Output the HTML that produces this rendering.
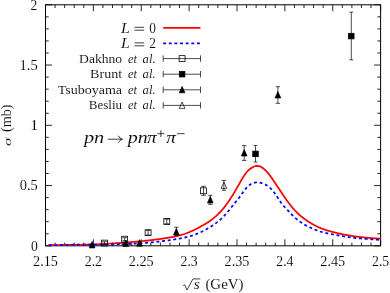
<!DOCTYPE html>
<html><head><meta charset="utf-8"><title>plot</title>
<style>html,body{margin:0;padding:0;background:#fff}svg{display:block;will-change:transform}text{font-family:"Liberation Serif",serif;fill:#000;stroke:#fff;stroke-width:0.1px}</style></head>
<body>
<svg width="390" height="293" viewBox="0 0 390 293">
<rect width="390" height="293" fill="#fff"/>
<path d="M45.50,245.8v-6.5M45.50,4.8v6.5M55.07,245.8v-3.2M55.07,4.8v3.2M64.65,245.8v-3.2M64.65,4.8v3.2M74.22,245.8v-3.2M74.22,4.8v3.2M83.80,245.8v-3.2M83.80,4.8v3.2M93.37,245.8v-6.5M93.37,4.8v6.5M102.95,245.8v-3.2M102.95,4.8v3.2M112.52,245.8v-3.2M112.52,4.8v3.2M122.09,245.8v-3.2M122.09,4.8v3.2M131.67,245.8v-3.2M131.67,4.8v3.2M141.24,245.8v-6.5M141.24,4.8v6.5M150.82,245.8v-3.2M150.82,4.8v3.2M160.39,245.8v-3.2M160.39,4.8v3.2M169.97,245.8v-3.2M169.97,4.8v3.2M179.54,245.8v-3.2M179.54,4.8v3.2M189.11,245.8v-6.5M189.11,4.8v6.5M198.69,245.8v-3.2M198.69,4.8v3.2M208.26,245.8v-3.2M208.26,4.8v3.2M217.84,245.8v-3.2M217.84,4.8v3.2M227.41,245.8v-3.2M227.41,4.8v3.2M236.99,245.8v-6.5M236.99,4.8v6.5M246.56,245.8v-3.2M246.56,4.8v3.2M256.13,245.8v-3.2M256.13,4.8v3.2M265.71,245.8v-3.2M265.71,4.8v3.2M275.28,245.8v-3.2M275.28,4.8v3.2M284.86,245.8v-6.5M284.86,4.8v6.5M294.43,245.8v-3.2M294.43,4.8v3.2M304.01,245.8v-3.2M304.01,4.8v3.2M313.58,245.8v-3.2M313.58,4.8v3.2M323.15,245.8v-3.2M323.15,4.8v3.2M332.73,245.8v-6.5M332.73,4.8v6.5M342.30,245.8v-3.2M342.30,4.8v3.2M351.88,245.8v-3.2M351.88,4.8v3.2M361.45,245.8v-3.2M361.45,4.8v3.2M371.03,245.8v-3.2M371.03,4.8v3.2M380.60,245.8v-6.5M380.60,4.8v6.5M45.5,245.80h6.5M380.6,245.80h-6.5M45.5,233.75h3.2M380.6,233.75h-3.2M45.5,221.70h3.2M380.6,221.70h-3.2M45.5,209.65h3.2M380.6,209.65h-3.2M45.5,197.60h3.2M380.6,197.60h-3.2M45.5,185.55h6.5M380.6,185.55h-6.5M45.5,173.50h3.2M380.6,173.50h-3.2M45.5,161.45h3.2M380.6,161.45h-3.2M45.5,149.40h3.2M380.6,149.40h-3.2M45.5,137.35h3.2M380.6,137.35h-3.2M45.5,125.30h6.5M380.6,125.30h-6.5M45.5,113.25h3.2M380.6,113.25h-3.2M45.5,101.20h3.2M380.6,101.20h-3.2M45.5,89.15h3.2M380.6,89.15h-3.2M45.5,77.10h3.2M380.6,77.10h-3.2M45.5,65.05h6.5M380.6,65.05h-6.5M45.5,53.00h3.2M380.6,53.00h-3.2M45.5,40.95h3.2M380.6,40.95h-3.2M45.5,28.90h3.2M380.6,28.90h-3.2M45.5,16.85h3.2M380.6,16.85h-3.2M45.5,4.80h6.5M380.6,4.80h-6.5" stroke="#000" stroke-width="0.85" fill="none"/>
<rect x="45.5" y="4.8" width="335.10" height="241.00" stroke="#000" stroke-width="1" fill="none"/>
<path d="M48.6,245.21 L50.1,245.17 L51.6,245.13 L53.1,245.10 L54.6,245.07 L56.1,245.05 L57.6,245.03 L59.1,245.01 L60.6,244.99 L62.1,244.97 L63.6,244.96 L65.1,244.94 L66.6,244.93 L68.1,244.92 L69.6,244.90 L71.1,244.89 L72.6,244.88 L74.1,244.86 L75.6,244.84 L77.1,244.83 L78.6,244.81 L80.1,244.79 L81.6,244.76 L83.1,244.73 L84.6,244.70 L86.1,244.67 L87.6,244.63 L89.1,244.59 L90.6,244.55 L92.1,244.50 L93.6,244.44 L95.1,244.38 L96.6,244.32 L98.1,244.25 L99.6,244.18 L101.1,244.10 L102.6,244.02 L104.1,243.94 L105.6,243.86 L107.1,243.77 L108.6,243.68 L110.1,243.59 L111.6,243.50 L113.1,243.41 L114.6,243.31 L116.1,243.22 L117.6,243.12 L119.1,243.02 L120.6,242.91 L122.1,242.81 L123.6,242.70 L125.1,242.59 L126.6,242.47 L128.1,242.35 L129.6,242.23 L131.1,242.11 L132.6,241.98 L134.1,241.85 L135.6,241.72 L137.1,241.58 L138.6,241.44 L140.1,241.29 L141.6,241.15 L143.1,241.00 L144.6,240.84 L146.1,240.68 L147.6,240.52 L149.1,240.36 L150.6,240.19 L152.1,240.02 L153.6,239.84 L155.1,239.66 L156.6,239.48 L158.1,239.29 L159.6,239.09 L161.1,238.89 L162.6,238.67 L164.1,238.45 L165.6,238.22 L167.1,237.98 L168.6,237.72 L170.1,237.45 L171.6,237.17 L173.1,236.87 L174.6,236.55 L176.1,236.22 L177.6,235.87 L179.1,235.50 L180.6,235.11 L182.1,234.68 L183.6,234.23 L185.1,233.74 L186.6,233.21 L188.1,232.64 L189.6,232.03 L191.1,231.38 L192.6,230.70 L194.1,229.98 L195.6,229.23 L197.1,228.47 L198.6,227.68 L200.1,226.88 L201.6,226.06 L203.1,225.22 L204.6,224.35 L206.1,223.44 L207.6,222.50 L209.1,221.51 L210.6,220.46 L212.1,219.35 L213.6,218.17 L215.1,216.92 L216.6,215.60 L218.1,214.18 L219.6,212.68 L221.1,211.08 L222.6,209.37 L224.1,207.55 L225.6,205.62 L227.1,203.58 L228.6,201.44 L230.1,199.20 L231.6,196.87 L233.1,194.45 L234.6,191.95 L236.1,189.38 L237.6,186.75 L239.1,184.09 L240.6,181.45 L242.1,178.86 L243.6,176.42 L245.1,174.18 L246.6,172.22 L248.1,170.59 L249.6,169.28 L251.1,168.20 L252.6,167.23 L254.1,166.50 L255.6,166.04 L257.1,165.85 L258.6,166.01 L260.1,166.43 L261.6,167.21 L263.1,168.30 L264.6,169.54 L266.1,170.95 L267.6,172.59 L269.1,174.44 L270.6,176.43 L272.1,178.52 L273.6,180.70 L275.1,182.93 L276.6,185.20 L278.1,187.49 L279.6,189.78 L281.1,192.05 L282.6,194.30 L284.1,196.50 L285.6,198.66 L287.1,200.74 L288.6,202.76 L290.1,204.70 L291.6,206.55 L293.1,208.33 L294.6,210.01 L296.1,211.60 L297.6,213.09 L299.1,214.49 L300.6,215.81 L302.1,217.05 L303.6,218.23 L305.1,219.34 L306.6,220.39 L308.1,221.40 L309.6,222.37 L311.1,223.29 L312.6,224.16 L314.1,224.99 L315.6,225.78 L317.1,226.52 L318.6,227.22 L320.1,227.87 L321.6,228.49 L323.1,229.06 L324.6,229.59 L326.1,230.09 L327.6,230.56 L329.1,231.01 L330.6,231.43 L332.1,231.84 L333.6,232.22 L335.1,232.60 L336.6,232.96 L338.1,233.32 L339.6,233.66 L341.1,233.98 L342.6,234.30 L344.1,234.60 L345.6,234.89 L347.1,235.16 L348.6,235.43 L350.1,235.67 L351.6,235.91 L353.1,236.13 L354.6,236.34 L356.1,236.54 L357.6,236.73 L359.1,236.91 L360.6,237.08 L362.1,237.24 L363.6,237.39 L365.1,237.53 L366.6,237.67 L368.1,237.80 L369.6,237.93 L371.1,238.04 L372.6,238.16 L374.1,238.27 L375.6,238.37 L377.1,238.47 L378.6,238.57 L380.6,238.70" stroke="#ff0000" stroke-width="1.75" fill="none"/>
<path d="M48.6,245.27 L50.1,245.22 L51.6,245.17 L53.1,245.12 L54.6,245.07 L56.1,245.03 L57.6,244.99 L59.1,244.96 L60.6,244.93 L62.1,244.90 L63.6,244.87 L65.1,244.84 L66.6,244.82 L68.1,244.80 L69.6,244.78 L71.1,244.76 L72.6,244.74 L74.1,244.73 L75.6,244.71 L77.1,244.70 L78.6,244.69 L80.1,244.68 L81.6,244.67 L83.1,244.66 L84.6,244.65 L86.1,244.64 L87.6,244.63 L89.1,244.62 L90.6,244.61 L92.1,244.60 L93.6,244.59 L95.1,244.58 L96.6,244.57 L98.1,244.55 L99.6,244.54 L101.1,244.52 L102.6,244.51 L104.1,244.49 L105.6,244.47 L107.1,244.45 L108.6,244.43 L110.1,244.40 L111.6,244.37 L113.1,244.34 L114.6,244.31 L116.1,244.28 L117.6,244.24 L119.1,244.20 L120.6,244.15 L122.1,244.11 L123.6,244.06 L125.1,244.00 L126.6,243.94 L128.1,243.88 L129.6,243.82 L131.1,243.75 L132.6,243.68 L134.1,243.60 L135.6,243.52 L137.1,243.43 L138.6,243.34 L140.1,243.24 L141.6,243.14 L143.1,243.03 L144.6,242.92 L146.1,242.81 L147.6,242.68 L149.1,242.56 L150.6,242.42 L152.1,242.29 L153.6,242.14 L155.1,241.99 L156.6,241.84 L158.1,241.67 L159.6,241.50 L161.1,241.33 L162.6,241.15 L164.1,240.96 L165.6,240.76 L167.1,240.56 L168.6,240.35 L170.1,240.13 L171.6,239.91 L173.1,239.67 L174.6,239.43 L176.1,239.18 L177.6,238.93 L179.1,238.66 L180.6,238.38 L182.1,238.08 L183.6,237.77 L185.1,237.43 L186.6,237.08 L188.1,236.70 L189.6,236.29 L191.1,235.86 L192.6,235.39 L194.1,234.89 L195.6,234.36 L197.1,233.78 L198.6,233.17 L200.1,232.51 L201.6,231.82 L203.1,231.08 L204.6,230.29 L206.1,229.47 L207.6,228.61 L209.1,227.71 L210.6,226.78 L212.1,225.81 L213.6,224.79 L215.1,223.73 L216.6,222.62 L218.1,221.44 L219.6,220.18 L221.1,218.84 L222.6,217.42 L224.1,215.89 L225.6,214.26 L227.1,212.55 L228.6,210.76 L230.1,208.93 L231.6,207.06 L233.1,205.18 L234.6,203.29 L236.1,201.43 L237.6,199.58 L239.1,197.68 L240.6,195.68 L242.1,193.58 L243.6,191.48 L245.1,189.47 L246.6,187.65 L248.1,186.13 L249.6,184.94 L251.1,184.04 L252.6,183.35 L254.1,182.83 L255.6,182.47 L257.1,182.30 L258.6,182.38 L260.1,182.65 L261.6,183.07 L263.1,183.58 L264.6,184.18 L266.1,184.94 L267.6,185.90 L269.1,187.06 L270.6,188.43 L272.1,189.99 L273.6,191.76 L275.1,193.73 L276.6,195.89 L278.1,198.23 L279.6,200.60 L281.1,202.77 L282.6,204.71 L284.1,206.47 L285.6,208.11 L287.1,209.67 L288.6,211.22 L290.1,212.77 L291.6,214.31 L293.1,215.81 L294.6,217.25 L296.1,218.61 L297.6,219.87 L299.1,221.03 L300.6,222.11 L302.1,223.11 L303.6,224.04 L305.1,224.91 L306.6,225.74 L308.1,226.53 L309.6,227.28 L311.1,228.00 L312.6,228.68 L314.1,229.33 L315.6,229.93 L317.1,230.50 L318.6,231.02 L320.1,231.51 L321.6,231.95 L323.1,232.35 L324.6,232.73 L326.1,233.07 L327.6,233.39 L329.1,233.69 L330.6,233.98 L332.1,234.26 L333.6,234.54 L335.1,234.83 L336.6,235.11 L338.1,235.40 L339.6,235.68 L341.1,235.95 L342.6,236.22 L344.1,236.49 L345.6,236.73 L347.1,236.97 L348.6,237.19 L350.1,237.39 L351.6,237.58 L353.1,237.76 L354.6,237.92 L356.1,238.08 L357.6,238.22 L359.1,238.36 L360.6,238.48 L362.1,238.60 L363.6,238.72 L365.1,238.83 L366.6,238.94 L368.1,239.04 L369.6,239.15 L371.1,239.26 L372.6,239.36 L374.1,239.47 L375.6,239.58 L377.1,239.70 L378.6,239.82 L380.6,240.00" stroke="#0000ff" stroke-width="1.75" stroke-dasharray="2.9 2.78" fill="none"/>
<text x="33.05" y="266.00" font-size="13.6" textLength="24.90" lengthAdjust="spacingAndGlyphs" >2.15</text>
<text x="84.77" y="266.00" font-size="13.6" textLength="17.20" lengthAdjust="spacingAndGlyphs" >2.2</text>
<text x="128.79" y="266.00" font-size="13.6" textLength="24.90" lengthAdjust="spacingAndGlyphs" >2.25</text>
<text x="180.51" y="266.00" font-size="13.6" textLength="17.20" lengthAdjust="spacingAndGlyphs" >2.3</text>
<text x="224.54" y="266.00" font-size="13.6" textLength="24.90" lengthAdjust="spacingAndGlyphs" >2.35</text>
<text x="276.26" y="266.00" font-size="13.6" textLength="17.20" lengthAdjust="spacingAndGlyphs" >2.4</text>
<text x="320.28" y="266.00" font-size="13.6" textLength="24.90" lengthAdjust="spacingAndGlyphs" >2.45</text>
<text x="372.00" y="266.00" font-size="13.6" textLength="17.20" lengthAdjust="spacingAndGlyphs" >2.5</text>
<text x="31.00" y="250.55" font-size="13.6" textLength="6.80" lengthAdjust="spacingAndGlyphs" >0</text>
<text x="19.70" y="190.30" font-size="13.6" textLength="18.10" lengthAdjust="spacingAndGlyphs" >0.5</text>
<text x="30.20" y="130.05" font-size="13.6" textLength="7.90" lengthAdjust="spacingAndGlyphs" >1</text>
<text x="19.50" y="69.80" font-size="13.6" textLength="18.30" lengthAdjust="spacingAndGlyphs" >1.5</text>
<text x="30.60" y="9.55" font-size="13.6" textLength="6.70" lengthAdjust="spacingAndGlyphs" >2</text>
<path d="M183.2,285.6l1.4,-0.8l2.4,5.2L193.0,278.9H200.3" stroke="#000" stroke-width="0.75" fill="none"/>
<text x="193.70" y="289.00" font-size="14" textLength="6.10" lengthAdjust="spacingAndGlyphs" font-style="italic">s</text>
<text x="205.40" y="289.00" font-size="14" textLength="38.10" lengthAdjust="spacingAndGlyphs" >(GeV)</text>
<g transform="translate(11.4,0) rotate(-90)">
<text x="-145.90" y="0.00" font-size="10.5" textLength="8.30" lengthAdjust="spacingAndGlyphs" font-style="italic">σ</text>
<text x="-132.10" y="0.00" font-size="14" textLength="27.70" lengthAdjust="spacingAndGlyphs" >(mb)</text>
</g>
<text x="121.00" y="32.60" font-size="13.8" textLength="8.90" lengthAdjust="spacingAndGlyphs" font-style="italic">L</text>
<path d="M134.5,27.30H144.2M134.5,30.20H144.2" stroke="#000" stroke-width="0.75" fill="none"/>
<text x="149.20" y="32.60" font-size="13.6" textLength="6.70" lengthAdjust="spacingAndGlyphs" >0</text>
<text x="121.00" y="48.20" font-size="13.8" textLength="8.90" lengthAdjust="spacingAndGlyphs" font-style="italic">L</text>
<path d="M134.5,42.90H144.2M134.5,45.80H144.2" stroke="#000" stroke-width="0.75" fill="none"/>
<text x="149.20" y="48.20" font-size="13.6" textLength="6.70" lengthAdjust="spacingAndGlyphs" >2</text>
<text x="79.10" y="62.50" font-size="12.3" textLength="43.00" lengthAdjust="spacingAndGlyphs" >Dakhno</text>
<text x="127.90" y="62.50" font-size="12.3" textLength="9.00" lengthAdjust="spacingAndGlyphs" font-style="italic">et</text>
<text x="142.60" y="62.50" font-size="12.3" textLength="13.00" lengthAdjust="spacingAndGlyphs" font-style="italic">al.</text>
<text x="90.10" y="78.10" font-size="12.3" textLength="32.00" lengthAdjust="spacingAndGlyphs" >Brunt</text>
<text x="127.90" y="78.10" font-size="12.3" textLength="9.00" lengthAdjust="spacingAndGlyphs" font-style="italic">et</text>
<text x="142.60" y="78.10" font-size="12.3" textLength="13.00" lengthAdjust="spacingAndGlyphs" font-style="italic">al.</text>
<text x="57.70" y="93.70" font-size="12.3" textLength="64.40" lengthAdjust="spacingAndGlyphs" >Tsuboyama</text>
<text x="127.90" y="93.70" font-size="12.3" textLength="9.00" lengthAdjust="spacingAndGlyphs" font-style="italic">et</text>
<text x="142.60" y="93.70" font-size="12.3" textLength="13.00" lengthAdjust="spacingAndGlyphs" font-style="italic">al.</text>
<text x="88.80" y="109.30" font-size="12.3" textLength="33.30" lengthAdjust="spacingAndGlyphs" >Besliu</text>
<text x="127.90" y="109.30" font-size="12.3" textLength="9.00" lengthAdjust="spacingAndGlyphs" font-style="italic">et</text>
<text x="142.60" y="109.30" font-size="12.3" textLength="13.00" lengthAdjust="spacingAndGlyphs" font-style="italic">al.</text>
<path d="M163.2,27.8H200.5" stroke="#ff0000" stroke-width="1.75"/>
<path d="M163.2,43.4H200.5" stroke="#0000ff" stroke-width="1.75" stroke-dasharray="2.9 2.73" stroke-dashoffset="0"/>
<path d="M163.2,58.6H200.5M163.2,55.4v6.4M200.5,55.4v6.4" stroke="#000" stroke-width="0.7" fill="none"/>
<rect x="179.15" y="55.65" width="5.9" height="5.9" fill="none" stroke="#000" stroke-width="0.8"/>
<path d="M163.2,74.2H200.5M163.2,71.0v6.4M200.5,71.0v6.4" stroke="#000" stroke-width="0.7" fill="none"/>
<rect x="179.35" y="71.45" width="5.5" height="5.5" fill="#000" stroke="#000" stroke-width="0.8"/>
<path d="M163.2,89.8H200.5M163.2,86.6v6.4M200.5,86.6v6.4" stroke="#000" stroke-width="0.7" fill="none"/>
<path d="M182.10,86.40L184.95,92.80H179.25Z" fill="#000" stroke="#000" stroke-width="0.7"/>
<path d="M163.2,105.4H200.5M163.2,102.2v6.4M200.5,102.2v6.4" stroke="#000" stroke-width="0.7" fill="none"/>
<path d="M182.10,102.00L184.95,108.40H179.25Z" fill="none" stroke="#000" stroke-width="0.7"/>
<text x="83.90" y="142.80" font-size="17.5" textLength="20.30" lengthAdjust="spacingAndGlyphs" font-style="italic">pn</text>
<path d="M107.8,139.2H122.2M118.4,135.7Q119.6,138.6 122.4,139.2Q119.6,139.8 118.4,142.7" stroke="#000" stroke-width="0.75" fill="none"/>
<text x="127.70" y="142.80" font-size="17.5" textLength="20.00" lengthAdjust="spacingAndGlyphs" font-style="italic">pn</text>
<text x="147.10" y="142.80" font-size="17.5" textLength="9.70" lengthAdjust="spacingAndGlyphs" font-style="italic">π</text>
<path d="M157.4,133.7H164.4M160.9,130.3V137.1M177,133.7H184.6" stroke="#000" stroke-width="0.75" fill="none"/>
<text x="166.20" y="142.80" font-size="17.5" textLength="9.70" lengthAdjust="spacingAndGlyphs" font-style="italic">π</text>
<path d="M104.50,241.70V244.50M102.20,241.70h4.6M102.20,244.50h4.6" stroke="#000" stroke-width="0.7" fill="none"/>
<rect x="101.55" y="240.15" width="5.9" height="5.9" fill="none" stroke="#000" stroke-width="0.8"/>
<path d="M124.65,237.70V240.70M122.35,237.70h4.6M122.35,240.70h4.6" stroke="#000" stroke-width="0.7" fill="none"/>
<rect x="121.70" y="236.25" width="5.9" height="5.9" fill="none" stroke="#000" stroke-width="0.8"/>
<path d="M148.10,230.40V235.00M145.80,230.40h4.6M145.80,235.00h4.6" stroke="#000" stroke-width="0.7" fill="none"/>
<rect x="145.15" y="229.75" width="5.9" height="5.9" fill="none" stroke="#000" stroke-width="0.8"/>
<path d="M166.80,219.20V223.80M164.50,219.20h4.6M164.50,223.80h4.6" stroke="#000" stroke-width="0.7" fill="none"/>
<rect x="163.85" y="218.55" width="5.9" height="5.9" fill="none" stroke="#000" stroke-width="0.8"/>
<path d="M203.50,186.30V195.30M201.20,186.30h4.6M201.20,195.30h4.6" stroke="#000" stroke-width="0.7" fill="none"/>
<rect x="200.55" y="187.85" width="5.9" height="5.9" fill="none" stroke="#000" stroke-width="0.8"/>
<path d="M92.10,244.00V245.80M89.90,244.00h4.4M89.90,245.80h4.4" stroke="#000" stroke-width="0.7" fill="none"/>
<path d="M92.10,241.50L94.95,247.90H89.25Z" fill="#000" stroke="#000" stroke-width="0.7"/>
<path d="M125.80,242.40V244.40M123.60,242.40h4.4M123.60,244.40h4.4" stroke="#000" stroke-width="0.7" fill="none"/>
<path d="M125.80,240.00L128.65,246.40H122.95Z" fill="#000" stroke="#000" stroke-width="0.7"/>
<path d="M139.50,242.00V244.40M137.30,242.00h4.4M137.30,244.40h4.4" stroke="#000" stroke-width="0.7" fill="none"/>
<path d="M139.50,239.80L142.35,246.20H136.65Z" fill="#000" stroke="#000" stroke-width="0.7"/>
<path d="M176.35,227.20V235.60M174.15,227.20h4.4M174.15,235.60h4.4" stroke="#000" stroke-width="0.7" fill="none"/>
<path d="M176.35,228.50L179.20,234.90H173.50Z" fill="#000" stroke="#000" stroke-width="0.7"/>
<path d="M210.30,195.30V204.30M208.10,195.30h4.4M208.10,204.30h4.4" stroke="#000" stroke-width="0.7" fill="none"/>
<path d="M210.30,196.50L213.15,202.90H207.45Z" fill="#000" stroke="#000" stroke-width="0.7"/>
<path d="M244.20,145.60V160.40M242.00,145.60h4.4M242.00,160.40h4.4" stroke="#000" stroke-width="0.7" fill="none"/>
<path d="M244.20,149.60L247.05,156.00H241.35Z" fill="#000" stroke="#000" stroke-width="0.7"/>
<path d="M277.90,86.70V103.30M275.70,86.70h4.4M275.70,103.30h4.4" stroke="#000" stroke-width="0.7" fill="none"/>
<path d="M277.90,91.60L280.75,98.00H275.05Z" fill="#000" stroke="#000" stroke-width="0.7"/>
<path d="M255.50,145.60V162.00M253.60,145.60h3.8M253.60,162.00h3.8" stroke="#000" stroke-width="0.7" fill="none"/>
<rect x="252.75" y="151.15" width="5.5" height="5.5" fill="#000" stroke="#000" stroke-width="0.8"/>
<path d="M351.30,12.20V59.80M349.40,12.20h3.8M349.40,59.80h3.8" stroke="#000" stroke-width="0.7" fill="none"/>
<rect x="348.55" y="33.35" width="5.5" height="5.5" fill="#000" stroke="#000" stroke-width="0.8"/>
<path d="M223.90,180.40V190.30M221.70,180.40h4.4M221.70,190.30h4.4" stroke="#000" stroke-width="0.7" fill="none"/>
<path d="M223.90,182.00L226.75,188.40H221.05Z" fill="none" stroke="#000" stroke-width="0.7"/>
</svg>
</body></html>
